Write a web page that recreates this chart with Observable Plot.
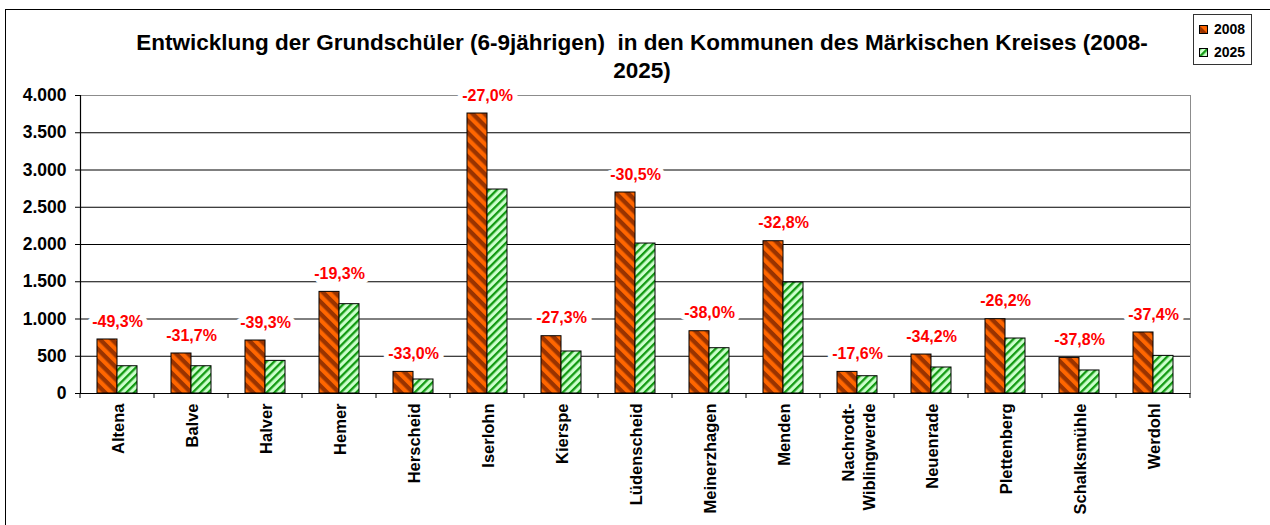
<!DOCTYPE html>
<html>
<head>
<meta charset="utf-8">
<script src="https://cdn.jsdelivr.net/npm/d3@7"></script>
<script src="https://cdn.jsdelivr.net/npm/@observablehq/plot@0.6"></script>
<style>
  body { margin: 0; background: #fff; font-family: "Liberation Sans", Arial, sans-serif; }
  #wrap { position: relative; width: 1270px; height: 525px; overflow: hidden; background: #fff; }
  #border { position: absolute; left: 5px; top: 9px; width: 1300px; height: 600px; border: 1.5px solid #000; }
  #title { position: absolute; left: 0; width: 1284px; top: 29px; text-align: center; font-weight: bold;
           font-size: 22.5px; line-height: 28px; white-space: pre; color: #000; }
  #chart { position: absolute; left: 0; top: 0; }
  #legend { position: absolute; left: 1193px; top: 14px; width: 57px; height: 49px; border: 1px solid #333;
            background: #fff; font-weight: bold; font-size: 14px; }
  #legend .item { position: absolute; left: 5px; height: 16px; line-height: 16px; display: flex; align-items: center; }
  #legend svg { margin-right: 6px; }
</style>
</head>
<body>
<div id="wrap">
  <div id="border"></div>
  <div id="chart"></div>
  <div id="title">Entwicklung der Grundschüler (6-9jährigen)  in den Kommunen des Märkischen Kreises (2008-
2025)</div>
  <div id="legend"></div>
</div>
<script>
// ---- data ----
const municipalities = ["Altena", "Balve", "Halver", "Hemer", "Herscheid", "Iserlohn", "Kierspe", "Lüdenscheid",
  "Meinerzhagen", "Menden", "Nachrodt-Wiblingwerde", "Neuenrade", "Plettenberg", "Schalksmühle", "Werdohl"];
const axisLabels = ["Altena", "Balve", "Halver", "Hemer", "Herscheid", "Iserlohn", "Kierspe", "Lüdenscheid",
  "Meinerzhagen", "Menden", "Nachrodt-\nWiblingwerde", "Neuenrade", "Plettenberg", "Schalksmühle", "Werdohl"];
const values2008 = [725, 537, 711, 1364, 290, 3758, 769, 2698, 836, 2044, 290, 523, 997, 478, 819];
const values2025 = [366, 366, 438, 1199, 188, 2738, 564, 2013, 608, 1490, 232, 349, 738, 309, 505];
const changeLabels = ["-49,3%", "-31,7%", "-39,3%", "-19,3%", "-33,0%", "-27,0%", "-27,3%", "-30,5%",
  "-38,0%", "-32,8%", "-17,6%", "-34,2%", "-26,2%", "-37,8%", "-37,4%"];
const years = ["2008", "2025"];
const yTicks = [0, 500, 1000, 1500, 2000, 2500, 3000, 3500, 4000];

// ---- tables built from the arrays ----
const rows2008 = municipalities.map((m, i) => ({m, year: "2008", v: values2008[i]}));
const rows2025 = municipalities.map((m, i) => ({m, year: "2025", v: values2025[i]}));
const cats = municipalities.map((m, i) => ({m, label: axisLabels[i], change: changeLabels[i],
  top: Math.max(values2008[i], values2025[i])}));

const de = d3.formatLocale({decimal: ",", thousands: ".", grouping: [3], currency: ["", " €"]});
const fmt = de.format(",d");

const plot = Plot.plot({
  width: 1270, height: 525,
  marginTop: 95, marginLeft: 76, marginRight: 76, marginBottom: 132,
  style: {fontFamily: "'Liberation Sans', Arial, sans-serif", background: "transparent", overflow: "visible", color: "#000"},
  fx: {domain: municipalities, paddingInner: 0, paddingOuter: 0, axis: null, label: null},
  x: {domain: years, paddingInner: 0, paddingOuter: 0.774, axis: null},
  y: {domain: [0, 4000], label: null, axis: null},
  marks: [
    Plot.ruleY(yTicks.filter(v => v > 0 && v < 4000), {stroke: "#000", strokeWidth: 1}),
    Plot.ruleY([4000], {stroke: "#8c8c8c", strokeWidth: 1}),
    Plot.frame({anchor: "right", facetAnchor: "right", stroke: "#8c8c8c"}),
    Plot.barY(rows2008, {fx: "m", x: "year", y: "v", fill: "url(#p2008)", stroke: "#000", strokeWidth: 1}),
    Plot.barY(rows2025, {fx: "m", x: "year", y: "v", fill: "url(#p2025)", stroke: "#000", strokeWidth: 1}),
    Plot.ruleY([0], {stroke: "#000", strokeWidth: 1.2}),
    Plot.frame({anchor: "left", facetAnchor: "left", stroke: "#000", strokeWidth: 1.2}),
    Plot.axisY({anchor: "left", ticks: yTicks, tickFormat: fmt, tickSize: 5, tickPadding: 9,
      fontSize: 17.5, fontWeight: "bold", label: null, stroke: "#000"}),
    Plot.text(cats, {fx: "m", y: "top", text: "change", dy: -18, fill: "#ff0000", stroke: "#fff",
      strokeWidth: 10, fontSize: 16, fontWeight: "bold"}),
    Plot.text(cats, {fx: "m", text: "label", frameAnchor: "bottom", rotate: -90, textAnchor: "end",
      lineAnchor: "middle", dy: 10, fontSize: 16.5, fontWeight: "bold", fill: "#000", lineHeight: 1.3})
  ]
});

const svg = plot.tagName.toLowerCase() === "svg" ? plot : plot.querySelector("svg");
document.getElementById("chart").appendChild(plot);

// patterns
function addPatterns(target) {
  const defs = d3.select(target).insert("defs", ":first-child");
  const p1 = defs.append("pattern").attr("id", "p2008").attr("patternUnits", "userSpaceOnUse")
    .attr("width", 8.5).attr("height", 8.5).attr("patternTransform", "rotate(-45)");
  p1.append("rect").attr("width", 8.5).attr("height", 8.5).attr("fill", "#993300");
  p1.append("rect").attr("width", 4.2).attr("height", 8.5).attr("fill", "#ff6600");
  const p2 = defs.append("pattern").attr("id", "p2025").attr("patternUnits", "userSpaceOnUse")
    .attr("width", 5.5).attr("height", 5.5).attr("patternTransform", "rotate(45)");
  p2.append("rect").attr("width", 5.5).attr("height", 5.5).attr("fill", "#ccffcc");
  p2.append("rect").attr("width", 2.3).attr("height", 5.5).attr("fill", "#129a12");
}
addPatterns(svg);

// category boundary ticks on the x axis, from Plot's fx and y scales
const fxScale = plot.scale("fx");
const y0 = plot.scale("y").apply(0);
const bounds = municipalities.map(m => fxScale.apply(m));
bounds.push(fxScale.apply(municipalities[municipalities.length - 1]) + fxScale.bandwidth);
const tg = d3.select(svg).append("g").attr("stroke", "#000").attr("stroke-width", 1);
bounds.forEach(bx => tg.append("line").attr("x1", bx).attr("x2", bx).attr("y1", y0).attr("y2", y0 + 5));

// legend
const legend = d3.select("#legend");
years.forEach((yr, i) => {
  const item = legend.append("div").attr("class", "item").style("top", (i === 0 ? 6 : 29) + "px");
  const s = item.append("svg").attr("width", 9).attr("height", 9);
  s.append("rect").attr("x", 0.5).attr("y", 0.5).attr("width", 8).attr("height", 8)
    .attr("fill", `url(#p${yr})`).attr("stroke", "#000").attr("stroke-width", 1);
  item.append("span").text(yr);
});
</script>
</body>
</html>
